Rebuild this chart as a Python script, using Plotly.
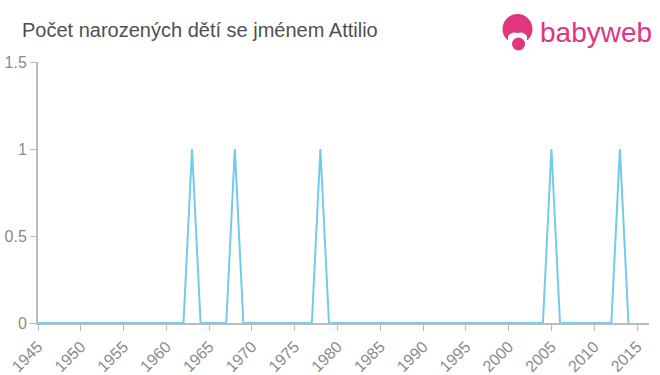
import plotly.graph_objects as go

years = list(range(1945, 2015))
peak_years = [1963, 1968, 1978, 2005, 2013]
peak_values = [1, 1, 1, 1, 1]
counts = [0] * len(years)
for y, v in zip(peak_years, peak_values):
    counts[years.index(y)] = v

title_text = "Počet narozených dětí se jménem Attilio"
x_ticks = list(range(1945, 2016, 5))
y_ticks = [0, 0.5, 1, 1.5]
y_tick_labels = ["0", "0.5", "1", "1.5"]

W, H = 660, 375
L, R, T, B = 38, 11, 62, 52
pw, ph = W - L - R, H - T - B

def px(x):
    return (x - L) / pw

def py(y):
    return (H - B - y) / ph

fig = go.Figure()
fig.add_trace(go.Scatter(
    x=years, y=counts, mode="lines",
    line=dict(color="#72cbeb", width=2),
    hoverinfo="skip",
))

pink = "#e0357f"
shapes = [
    dict(type="circle", xref="paper", yref="paper",
         x0=px(502.5), x1=px(532.5), y0=py(44), y1=py(14),
         fillcolor=pink, line=dict(width=0), layer="above"),
    dict(type="path", xref="paper", yref="paper",
         path=f"M {px(508)},{py(36)} Q {px(512)},{py(31)} {px(517.5)},{py(33)} Q {px(523)},{py(31)} {px(527)},{py(36)} L {px(527)},{py(52)} L {px(508)},{py(52)} Z",
         fillcolor="white", line=dict(width=0), layer="above"),
    dict(type="circle", xref="paper", yref="paper",
         x0=px(512), x1=px(525), y0=py(50.5), y1=py(37.5),
         fillcolor=pink, line=dict(width=0), layer="above"),
]

fig.update_layout(
    width=W, height=H,
    margin=dict(l=L, r=R, t=T, b=B, autoexpand=False),
    paper_bgcolor="white", plot_bgcolor="white",
    showlegend=False,
    font=dict(family="Liberation Sans, Arial, sans-serif"),
    xaxis=dict(
        range=[1945, 2016.4], tickmode="array", tickvals=x_ticks,
        ticktext=[str(t) for t in x_ticks], tickangle=-45,
        automargin=False,
        showgrid=False, zeroline=False, showline=True,
        linecolor="#bbbbbb", linewidth=2, ticks="outside",
        ticklen=6, tickcolor="#bbbbbb", tickwidth=1,
        tickfont=dict(size=16, color="#8a8a8a"),
    ),
    yaxis=dict(
        range=[0, 1.5], tickmode="array", tickvals=y_ticks,
        ticktext=y_tick_labels, automargin=False,
        showgrid=False, zeroline=False, showline=True,
        linecolor="#bbbbbb", linewidth=2, ticks="outside",
        ticklen=6, tickcolor="#bbbbbb", tickwidth=1,
        tickfont=dict(size=16, color="#8a8a8a"),
    ),
    shapes=shapes,
    annotations=[
        dict(text=title_text, xref="paper", yref="paper",
             x=px(20), y=py(30), xanchor="left", yanchor="middle",
             showarrow=False, font=dict(size=20, color="#505050")),
        dict(text="babyweb", xref="paper", yref="paper",
             x=px(538), y=py(33), xanchor="left", yanchor="middle",
             showarrow=False, font=dict(size=28, color=pink)),
    ],
)

fig.write_html("out.html")
